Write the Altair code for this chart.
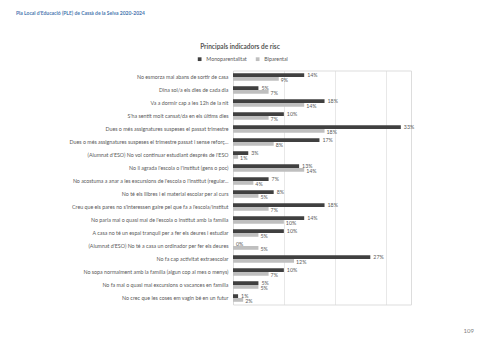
import altair as alt
import pandas as pd

categories = [
    "No esmorza mai abans de sortir de casa",
    "Dina sol/a els dies de cada dia",
    "Va a dormir cap a les 12h de la nit",
    "S'ha sentit molt cansat/da en els últims dies",
    "Dues o més assignatures suspeses el passat trimestre",
    "Dues o més assignatures suspeses el trimestre passat i sense reforç...",
    "(Alumnat d'ESO) No vol continuar estudiant després de l'ESO",
    "No li agrada l'escola o l'institut (gens o poc)",
    "No acostuma a anar a les excursions de l'escola o l'institut (regular...",
    "No té els llibres i el material escolar per al curs",
    "Creu que els pares no s'interessen gaire pel que fa a l'escola/institut",
    "No parla mai o quasi mai de l'escola o institut amb la família",
    "A casa no té un espai tranquil per a fer els deures i estudiar",
    "(Alumnat d'ESO) No té a casa un ordinador per fer els deures",
    "No fa cap activitat extraescolar",
    "No sopa normalment amb la família (algun cop al mes o menys)",
    "No fa mai o quasi mai excursions o vacances en família",
    "No crec que les coses em vagin bé en un futur",
]
mono = [14, 5, 18, 10, 33, 17, 3, 13, 7, 8, 18, 14, 10, 0, 27, 10, 5, 1]
bi = [9, 7, 14, 7, 18, 8, 1, 14, 4, 5, 7, 10, 5, 5, 12, 7, 5, 2]
series = ["Monoparentalitat", "Biparental"]
colors = ["#404040", "#bfbfbf"]

rows = []
for c, m, b in zip(categories, mono, bi):
    rows.append({"cat": c, "serie": series[0], "v": m, "label": f"{m}%"})
    rows.append({"cat": c, "serie": series[1], "v": b, "label": f"{b}%"})
df = pd.DataFrame(rows)

FONT = "Lato"

y_enc = alt.Y("cat:N", sort=categories, title=None,
              scale=alt.Scale(paddingInner=0.42, paddingOuter=0.21),
              axis=alt.Axis(ticks=False, domain=False, labelFontSize=5.3, labelFont=FONT,
                            labelColor="#595959", labelPadding=5, labelLimit=200))
yoff = alt.YOffset("serie:N", sort=series)
x_enc = alt.X("v:Q", title=None, scale=alt.Scale(domain=[0, 35], nice=False),
              axis=alt.Axis(values=[0, 5, 10, 15, 20, 25, 30, 35], labels=False, ticks=False,
                            domain=False, grid=True, gridColor="#d9d9d9", gridWidth=0.6))

bars = alt.Chart(df).mark_bar().encode(
    x=x_enc, y=y_enc, yOffset=yoff,
    color=alt.Color("serie:N", sort=series, scale=alt.Scale(domain=series, range=colors),
                    legend=alt.Legend(title=None, orient="none", legendX=-36, legendY=-14,
                                      direction="horizontal", symbolType="square", symbolSize=14,
                                      labelFontSize=5.3, labelFont=FONT, labelColor="#595959",
                                      columnPadding=8, symbolStrokeWidth=0)),
)

txt_mono = alt.Chart(df).transform_filter(alt.datum.serie == series[0]).mark_text(
    align="left", baseline="middle", dx=3, dy=0, fontSize=5.3, font=FONT, color="#595959"
).encode(x="v:Q", y=alt.Y("cat:N", sort=categories), yOffset=yoff, text="label:N")

txt_bi = alt.Chart(df).transform_filter(alt.datum.serie == series[1]).mark_text(
    align="left", baseline="middle", dx=2, dy=1.5, fontSize=5.3, font=FONT, color="#595959"
).encode(x="v:Q", y=alt.Y("cat:N", sort=categories), yOffset=yoff, text="label:N")

one = pd.DataFrame({"t": [""]})
header = alt.Chart(one).mark_text(
    text="Pla Local d'Educació (PLE) de Cassà  de la Selva 2020-2024", align="left",
    baseline="middle", fontSize=5, font=FONT, fontWeight="bold", color="#4a78b0"
).encode(x=alt.value(-217), y=alt.value(-57.5))
title = alt.Chart(one).mark_text(
    text="Principals indicadors de risc", align="center", baseline="middle",
    fontSize=6.5, font=FONT, fontWeight="bold", color="#595959"
).encode(x=alt.value(7), y=alt.value(-23.5))
page = alt.Chart(one).mark_text(
    text="109", align="right", baseline="middle", fontSize=6, font=FONT, color="#7f7f7f"
).encode(x=alt.value(241), y=alt.value(260))

chart = alt.layer(bars, txt_mono, txt_bi, header, title, page).properties(
    width=178, height=234,
    autosize=alt.AutoSizeParams(type="none"),
    padding={"left": 233, "top": 70.5, "right": 69, "bottom": 43.5},
).configure_view(stroke=None).configure(background="white")

chart.save("out.html", embed_options={"renderer": "svg", "actions": False})
